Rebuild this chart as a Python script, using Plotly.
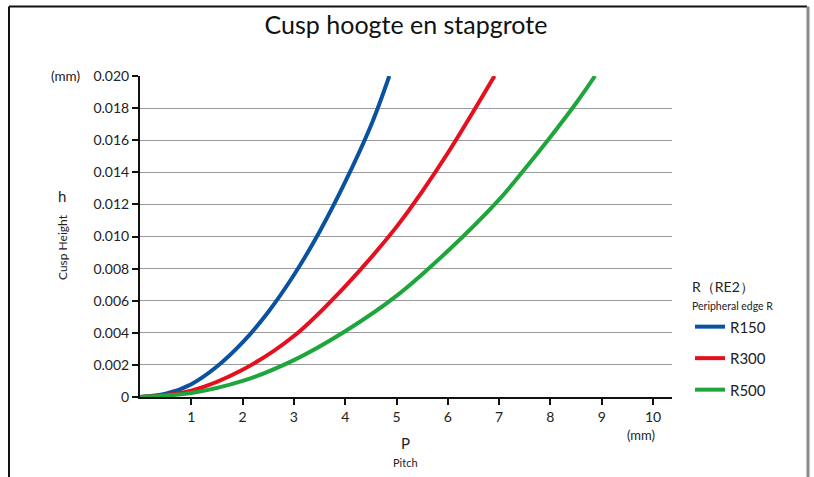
import plotly.graph_objects as go

# Cusp height h (mm) against pitch P (mm) for three peripheral edge radii
p_r150 = [0, 0.5, 1.0, 1.5, 2.0, 2.5, 3.0, 3.5, 4.0, 4.5, 4.86]
h_r150 = [0.0, 0.0002, 0.0008, 0.0019, 0.0034, 0.0053, 0.0076, 0.0103, 0.0134, 0.0169, 0.0200]

p_r300 = [0, 1, 2, 3, 4, 5, 5.5, 6, 6.5, 6.91]
h_r300 = [0.0, 0.0004, 0.0017, 0.0038, 0.0069, 0.0106, 0.0128, 0.0152, 0.0178, 0.0200]

p_r500 = [0, 1, 2, 3, 4, 5, 6, 7, 7.5, 8, 8.5, 8.87]
h_r500 = [0.0, 0.00025, 0.0010, 0.0023, 0.0041, 0.0063, 0.0091, 0.0123, 0.0142, 0.0162, 0.0183, 0.0200]

series_names = ["R150", "R300", "R500"]
series_colors = ["#0a52a0", "#e60f1e", "#1ea53c"]

x_tickvals = [1, 2, 3, 4, 5, 6, 7, 8, 9, 10]
x_ticktext = ["1", "2", "3", "4", "5", "6", "7", "8", "9", "10"]
y_tickvals = [0, 0.002, 0.004, 0.006, 0.008, 0.010, 0.012, 0.014, 0.016, 0.018, 0.020]
y_ticktext = ["0", "0.002", "0.004", "0.006", "0.008", "0.010", "0.012",
              "0.014", "0.016", "0.018", "0.020"]

FONT = "Lato, 'Noto Sans', sans-serif"

fig = go.Figure()
for i, (px, hy) in enumerate([(p_r150, h_r150), (p_r300, h_r300), (p_r500, h_r500)]):
    fig.add_trace(go.Scatter(
        x=px, y=hy, mode="lines", name=series_names[i],
        line=dict(color=series_colors[i], width=4, shape="spline", smoothing=1.0),
        legendgroup=series_names[i],
    ))

W, H = 814, 477
ml, mr, mt, mb = 140, 142, 76, 80
pw, ph = W - ml - mr, H - mt - mb


def px2x(xp):
    return (xp - ml) / pw


def py2y(yp):
    return (H - mb - yp) / ph


fig.update_layout(
    width=W, height=H,
    margin=dict(l=ml, r=mr, t=mt, b=mb),
    paper_bgcolor="white", plot_bgcolor="white",
    font=dict(family=FONT, color="#222", size=14),
    title=dict(text="Cusp hoogte en stapgrote", x=0.5, xref="paper", xanchor="center",
               y=1 - 25 / H, yanchor="middle", font=dict(size=25, color="#111", family=FONT)),
    xaxis=dict(range=[0, pw / 51.3], tickvals=x_tickvals, ticktext=x_ticktext,
               showgrid=False, zeroline=False, showline=True, linecolor="#111", linewidth=2,
               ticks="outside", ticklen=6, tickwidth=1.5, tickcolor="#111",
               tickfont=dict(size=14, color="#222")),
    yaxis=dict(range=[0, 0.020], tickvals=y_tickvals, ticktext=y_ticktext,
               showgrid=True, gridcolor="#9a9a9a", gridwidth=1, zeroline=False,
               showline=True, linecolor="#111", linewidth=2,
               ticks="outside", ticklen=6, tickwidth=1.5, tickcolor="#111",
               tickfont=dict(size=14, color="#222")),
    legend=dict(
        x=px2x(690), y=py2y(274), xanchor="left", yanchor="top",
        title=dict(text="R（RE2）<br><span style='font-size:10.5px'>Peripheral edge R</span>",
                   font=dict(size=14, color="#222")),
        font=dict(size=15, color="#222"), traceorder="grouped", tracegroupgap=9,
        bgcolor="rgba(0,0,0,0)", itemwidth=30,
    ),
    showlegend=True,
)

annotations = [
    dict(text="(mm)", x=px2x(65), y=py2y(76), font=dict(size=13.5)),
    dict(text="h", x=px2x(62), y=py2y(196), font=dict(size=15)),
    dict(text="Cusp Height", x=px2x(63), y=py2y(247), font=dict(size=12), textangle=-90),
    dict(text="(mm)", x=px2x(641), y=py2y(435), font=dict(size=13)),
    dict(text="P", x=px2x(405), y=py2y(443), font=dict(size=15)),
    dict(text="Pitch", x=px2x(405), y=py2y(462), font=dict(size=11)),
]
for a in annotations:
    a.update(xref="paper", yref="paper", showarrow=False, xanchor="center", yanchor="middle")
    fig.add_annotation(**a)

# Frame around the chart
frame = [
    (9, 6.5, 807, 6.5, "#111", 2),
    (9, 6.5, 9, 490, "#111", 2),
    (808, 6.5, 808, 490, "#8a8a8a", 3),
]
for x0, y0, x1, y1, c, w in frame:
    fig.add_shape(type="line", xref="paper", yref="paper",
                  x0=px2x(x0), y0=py2y(y0), x1=px2x(x1), y1=py2y(y1),
                  line=dict(color=c, width=w))

fig.write_html("out.html")
